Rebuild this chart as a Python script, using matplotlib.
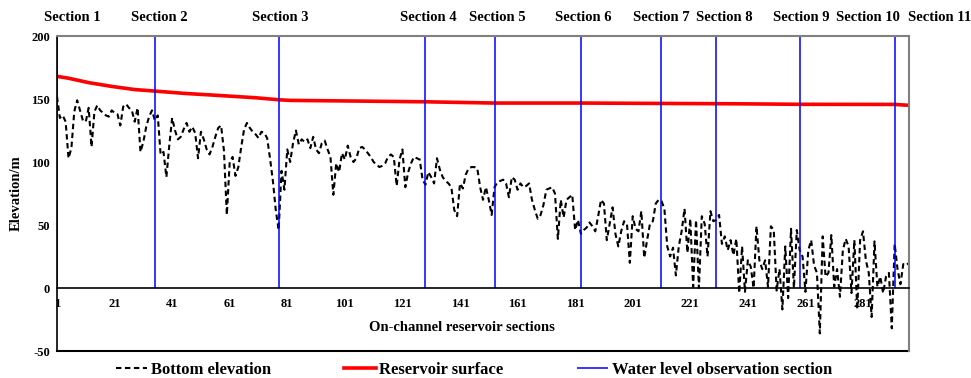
import matplotlib.pyplot as plt

plt.rcParams['font.family'] = ['Liberation Serif', 'DejaVu Serif']
plt.rcParams['font.weight'] = 'bold'
plt.rcParams['axes.unicode_minus'] = False

#bottom elevation of every on-channel section (1..297)
bottom_elevation = [
    152, 135, 137, 132, 103, 111, 140, 149, 141, 133,
    132, 143, 112, 140, 145, 141, 139, 137, 136, 141,
    139, 138, 129, 144, 146, 143, 141, 132, 143, 108,
    116, 128, 136, 141, 133, 137, 106, 108, 88, 113,
    135, 125, 118, 120, 126, 131, 124, 128, 123, 103,
    124, 118, 110, 106, 112, 120, 127, 129, 109, 58,
    100, 104, 89, 96, 112, 126, 131, 127, 124, 122,
    119, 124, 123, 119, 103, 85, 62, 46, 93, 78,
    110, 100, 115, 125, 114, 118, 116, 118, 111, 120,
    110, 107, 115, 117, 110, 104, 74, 99, 92, 107,
    102, 113, 104, 100, 103, 111, 112, 110, 107, 104,
    100, 98, 96, 97, 99, 104, 106, 104, 81, 102,
    110, 80, 92, 99, 104, 103, 102, 86, 82, 92,
    88, 83, 103, 94, 88, 85, 83, 80, 62, 57,
    83, 79, 90, 95, 96, 96, 95, 80, 70, 80,
    70, 58, 80, 84, 85, 86, 83, 72, 88, 86,
    78, 83, 80, 81, 83, 70, 62, 55, 58, 66,
    78, 79, 80, 75, 39, 70, 56, 70, 72, 74,
    46, 54, 43, 46, 48, 52, 49, 45, 57, 70,
    67, 38, 51, 64, 43, 33, 45, 53, 51, 20,
    57, 47, 45, 61, 24, 38, 51, 53, 67, 70,
    69, 63, 33, 25, 32, 10, 33, 45, 63, 28,
    55, 1, 54, 0, 57, 51, 25, 61, 53, 54,
    58, 35, 41, 30, 38, 26, 39, -4, 33, -3,
    22, 17, 0, 49, 22, 15, 22, 1, 49, 46,
    -2, 15, -17, 33, -8, 47, 0, 46, 30, 25,
    -3, 30, 38, 18, 12, -36, 41, 9, 12, 42,
    1, 15, -7, 30, 39, 33, -4, 38, -17, 38,
    45, 22, 12, -23, 37, 1, 9, -4, 9, 12,
    -32, 35, 15, 3, 19, 18, 20,
]
sections = list(range(1, len(bottom_elevation) + 1))

#reservoir water surface read at some sections
surface_x = [1, 5, 12, 20, 28, 35, 45, 56, 70, 78, 82, 100, 129, 153, 183, 211, 238, 259, 292, 297]
surface_y = [168, 166.5, 163, 160, 157.5, 156.3, 154.5, 153, 151, 149.4, 148.9, 148.5,
             147.8, 146.8, 146.8, 146.5, 146.2, 145.8, 145.7, 145]

#water level observation sections
obs_sections = [1, 35, 78, 129, 153, 183, 211, 230, 259, 292, 297]
obs_names = ["Section " + str(n) for n in range(1, 12)]
#horizontal shift of the section names (points)
label_shift = [11, 3, 1.5, 2, 2, 1.5, 0, 6, 1, -19, 22]

fig = plt.figure(figsize=(9.71, 3.78), dpi=100)
ax = fig.add_axes([0.0587, 0.0714, 0.8775, 0.8333])

ax.plot(sections, bottom_elevation, color='black', lw=1.5, dashes=(2.6, 1.7), label='Bottom elevation')
ax.plot(surface_x, surface_y, color='#ff0000', lw=2.6, label='Reservoir surface')
for i, s in enumerate(obs_sections):
    if i == 0:
        ax.vlines(s, 0, 200, color='#0000ff', lw=1.1, label='Water level observation section')
    else:
        ax.vlines(s, 0, 200, color='#0000ff', lw=1.1)
    ax.annotate(obs_names[i], xy=(s, 1.0), xycoords=('data', 'axes fraction'),
                xytext=(label_shift[i], 13), textcoords='offset points',
                ha='center', va='center', fontsize=10.5, fontweight='bold')

ax.set_xlim(1, len(bottom_elevation))
ax.set_ylim(-50, 200)
ax.set_yticks([-50, 0, 50, 100, 150, 200])
ax.set_xticks(range(1, 282, 20))
ax.tick_params(axis='y', length=0, labelsize=9, pad=5)
ax.tick_params(axis='x', length=0, labelsize=9, pad=7)
for lab in ax.get_xticklabels() + ax.get_yticklabels():
    lab.set_fontweight('bold')

#x axis crosses at zero like in excel
ax.spines['bottom'].set_position(('data', 0))
ax.spines['bottom'].set_linewidth(1.2)
ax.axhline(-50, color='black', lw=1.5, clip_on=False)
ax.spines['left'].set_linewidth(1.2)
ax.spines['top'].set_color('#808080')
ax.spines['right'].set_color('#808080')
ax.spines['top'].set_linewidth(1.5)
ax.spines['right'].set_linewidth(1.5)

ax.set_ylabel("Elevation/m", fontsize=10.5, fontweight='bold', labelpad=6)
ax.text(0.475, 0.076, "On-channel reservoir sections", transform=ax.transAxes,
        ha='center', va='center', fontsize=10.5, fontweight='bold')

fig.legend(loc='center', bbox_to_anchor=(0.488, 0.022), ncol=3, frameon=False,
           prop={'size': 12, 'weight': 'bold'}, handlelength=1.9, handletextpad=0.2,
           columnspacing=4.4, borderaxespad=0)

plt.savefig("out.png", dpi=100)
plt.close()
